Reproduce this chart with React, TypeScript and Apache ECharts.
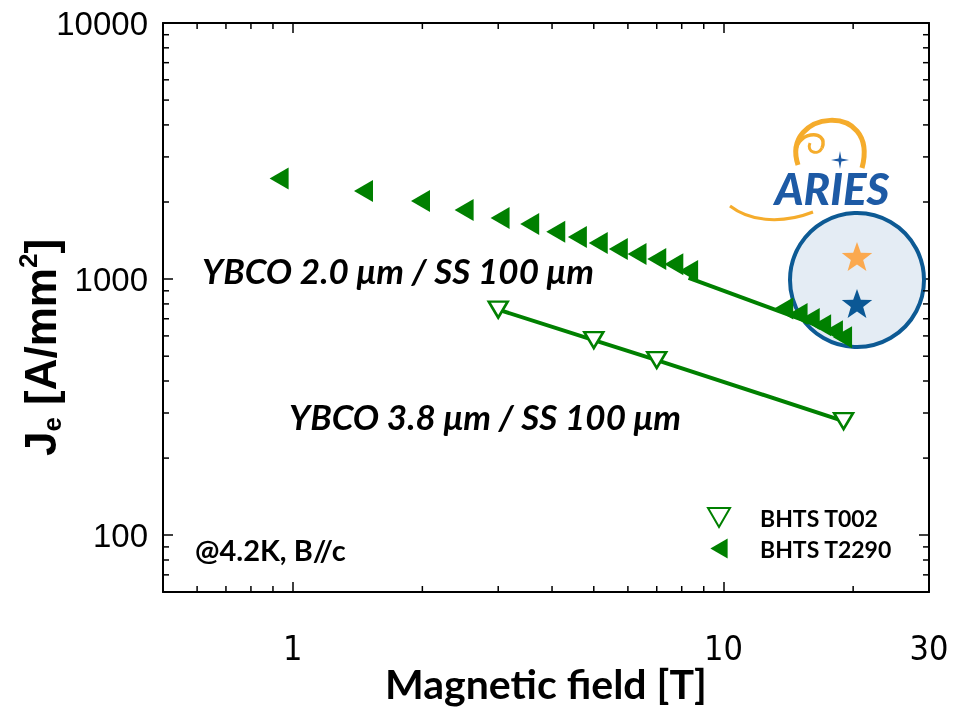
import React, { useEffect, useRef } from 'react';
import * as echarts from 'echarts';

// ---- data ----
const T002_FIELD = [3.0, 5.0, 7.0, 19.0];
const T002_JE = [760, 578, 483, 279];

const T2290_FIELD = [0.93, 1.46, 1.98, 2.5, 3.03, 3.55, 4.08, 4.58, 5.12, 5.7, 6.3, 7.0, 7.67, 8.3, 13.8, 14.9, 15.9, 16.9, 18.0, 18.9];
const T2290_JE = [2470, 2207, 2017, 1860, 1731, 1640, 1530, 1459, 1382, 1310, 1252, 1197, 1144, 1075, 767, 730, 698, 661, 626, 593];

const T2290_FIT_FIELD = [8.3, 19.4];
const T2290_FIT_JE = [1010, 598];

const X_MIN = 0.5;
const X_MAX = 30;
const Y_MIN = 60;
const Y_MAX = 10000;

const X_MINOR = [0.6, 0.7, 0.8, 0.9, 2, 3, 4, 5, 6, 7, 8, 9, 20];
const Y_MINOR = [70, 80, 90, 200, 300, 400, 500, 600, 700, 800, 900, 2000, 3000, 4000, 5000, 6000, 7000, 8000, 9000];

const LEGEND_NAMES = ['BHTS T002', 'BHTS T2290'];

const GREEN = '#008000';
const HUMANIST = 'Lato, "Open Sans", sans-serif';
const ARIAL = '"Liberation Sans", Arial, sans-serif';
const ICON_DOWN = 'path://M0,0 L22,0 L11,19 Z';
const ICON_LEFT = 'path://M19,0 L19,22 L0,11 Z';

function starPoints(cx: number, cy: number, R: number, r: number, n: number) {
  const pts: number[][] = [];
  for (let i = 0; i < n * 2; i++) {
    const rad = i % 2 === 0 ? R : r;
    const a = -Math.PI / 2 + (i * Math.PI) / n;
    pts.push([cx + rad * Math.cos(a), cy + rad * Math.sin(a)]);
  }
  return pts;
}

const fmt = (v: number) => String(Math.round(v * 100) / 100);

export default function App() {
  const ref = useRef<HTMLDivElement>(null);
  useEffect(() => {
    if (!ref.current) return;
    const chart = echarts.init(ref.current, undefined, { renderer: 'svg' });

    const axisCommon = {
      type: 'log',
      logBase: 10,
      nameMoveOverlap: false,
      axisLine: { show: true, lineStyle: { color: '#000', width: 2 } },
      axisTick: { show: true, inside: true, length: 10, lineStyle: { color: '#000', width: 1.5 } },
      splitLine: { show: false },
      minorTick: { show: false },
    };

    const tick = (x1: number, y1: number, x2: number, y2: number) => ({
      type: 'line',
      shape: { x1, y1, x2, y2 },
      style: { stroke: '#000', lineWidth: 1.5 },
    });

    const option: any = {
      animation: false,
      grid: { left: 163, top: 23, right: 26, bottom: 118, containLabel: false, outerBoundsMode: 'none' },
      xAxis: [
        {
          ...axisCommon,
          min: X_MIN,
          max: X_MAX,
          position: 'bottom',
          axisLabel: {
            showMinLabel: false,
            formatter: fmt,
            color: '#000',
            fontSize: 34,
            fontFamily: '"Liberation Sans Narrow", "DejaVu Sans Condensed", "Liberation Sans", sans-serif',
            margin: 39,
          },
          name: 'Magnetic field [T]',
          nameLocation: 'middle',
          nameGap: 71,
          nameTextStyle: { fontFamily: HUMANIST, fontWeight: 'bold', fontSize: 41, color: '#000' },
        },
        {
          ...axisCommon,
          min: X_MIN,
          max: X_MAX,
          position: 'top',
          axisLabel: { show: false },
        },
      ],
      yAxis: [
        {
          ...axisCommon,
          min: Y_MIN,
          max: Y_MAX,
          position: 'left',
          axisLabel: {
            showMinLabel: false,
            formatter: fmt,
            color: '#000',
            fontSize: 33,
            fontFamily: ARIAL,
            margin: 15,
          },
          name: '{j|J}{e|e}{t| [A/mm}{s|2}{t|]}',
          nameLocation: 'middle',
          nameGap: 98,
          nameTextStyle: {
            color: '#000',
            padding: [0, 80, 0, 0],
            rich: {
              j: { fontSize: 44, fontWeight: 'bold', fontFamily: ARIAL, lineHeight: 50, color: '#000' },
              t: { fontSize: 44, fontWeight: 'bold', fontFamily: ARIAL, lineHeight: 50, color: '#000' },
              e: { fontSize: 26, fontWeight: 'bold', fontFamily: ARIAL, lineHeight: 20, verticalAlign: 'bottom', color: '#000' },
              s: { fontSize: 26, fontWeight: 'bold', fontFamily: ARIAL, lineHeight: 20, verticalAlign: 'top', color: '#000' },
            },
          },
        },
        {
          ...axisCommon,
          min: Y_MIN,
          max: Y_MAX,
          position: 'right',
          axisLabel: { show: false },
        },
      ],
      legend: {
        orient: 'vertical',
        left: 702,
        top: 501,
        itemWidth: 22,
        itemHeight: 20,
        itemGap: 8,
        data: [
          { name: LEGEND_NAMES[0], icon: ICON_DOWN },
          { name: LEGEND_NAMES[1], icon: ICON_LEFT },
        ],
        textStyle: { fontFamily: HUMANIST, fontWeight: 'bold', fontSize: 23, color: '#000', padding: [0, 0, 0, 25] },
      },
      series: [
        {
          type: 'line',
          name: 'fitT002',
          data: T002_FIELD.map((x, i) => [x, T002_JE[i]]),
          showSymbol: false,
          symbol: 'none',
          lineStyle: { color: GREEN, width: 4 },
          z: 2,
          silent: true,
        },
        {
          type: 'line',
          name: 'fitT2290',
          data: T2290_FIT_FIELD.map((x, i) => [x, T2290_FIT_JE[i]]),
          showSymbol: false,
          symbol: 'none',
          lineStyle: { color: GREEN, width: 4 },
          z: 2,
          silent: true,
        },
        {
          type: 'scatter',
          name: LEGEND_NAMES[0],
          data: T002_FIELD.map((x, i) => [x, T002_JE[i]]),
          symbol: 'triangle',
          symbolRotate: 180,
          symbolSize: [19, 16],
          itemStyle: { color: '#fff', borderColor: GREEN, borderWidth: 2.5, opacity: 1 },
          z: 4,
        },
        {
          type: 'scatter',
          name: LEGEND_NAMES[1],
          data: T2290_FIELD.map((x, i) => [x, T2290_JE[i]]),
          symbol: 'triangle',
          symbolRotate: 90,
          symbolSize: [22, 19],
          itemStyle: { color: GREEN, opacity: 1 },
          z: 4,
        },
        {
          type: 'custom',
          name: 'xminor',
          silent: true,
          z: 5,
          data: X_MINOR.map((v) => [v, Y_MIN]),
          renderItem: (_p: any, api: any) => {
            const v = api.value(0);
            const b = api.coord([v, Y_MIN]);
            const t = api.coord([v, Y_MAX]);
            return {
              type: 'group',
              children: [tick(b[0], b[1], b[0], b[1] - 6), tick(t[0], t[1], t[0], t[1] + 6)],
            };
          },
        },
        {
          type: 'custom',
          name: 'yminor',
          silent: true,
          z: 5,
          data: Y_MINOR.map((v) => [X_MIN, v]),
          renderItem: (_p: any, api: any) => {
            const v = api.value(1);
            const l = api.coord([X_MIN, v]);
            const r = api.coord([X_MAX, v]);
            return {
              type: 'group',
              children: [tick(l[0], l[1], l[0] + 6, l[1]), tick(r[0], r[1], r[0] - 6, r[1])],
            };
          },
        },
      ],
      graphic: [
        {
          type: 'circle',
          z: 1,
          shape: { cx: 857, cy: 280, r: 67 },
          style: { fill: '#e4ecf4', stroke: '#0d5a94', lineWidth: 4 },
        },
        {
          type: 'polygon',
          z: 1,
          shape: { points: starPoints(857, 258, 16, 6.5, 5) },
          style: { fill: '#fba94f' },
        },
        {
          type: 'polygon',
          z: 1,
          shape: { points: starPoints(857, 305, 16, 6.5, 5) },
          style: { fill: '#0b5895' },
        },
        // ARIES logo
        {
          type: 'bezierCurve',
          z: 1,
          shape: { x1: 730, y1: 206, cpx1: 752, cpy1: 223, cpx2: 785, cpy2: 223, x2: 813, y2: 212 },
          style: { stroke: '#f5ac2c', lineWidth: 3, fill: 'none' },
        },
        {
          type: 'bezierCurve',
          z: 1,
          shape: { x1: 798, y1: 165, cpx1: 780, cpy1: 110, cpx2: 880, cpy2: 100, x2: 862, y2: 168 },
          style: { stroke: '#f5ac2c', lineWidth: 5, fill: 'none' },
        },
        {
          type: 'bezierCurve',
          z: 1,
          shape: { x1: 796, y1: 158, cpx1: 792, cpy1: 130, cpx2: 830, cpy2: 128, x2: 822, y2: 148 },
          style: { stroke: '#f5ac2c', lineWidth: 3.5, fill: 'none' },
        },
        {
          type: 'bezierCurve',
          z: 1,
          shape: { x1: 822, y1: 148, cpx1: 818, cpy1: 156, cpx2: 806, cpy2: 152, x2: 810, y2: 143 },
          style: { stroke: '#f5ac2c', lineWidth: 3, fill: 'none' },
        },
        {
          type: 'polygon',
          z: 1,
          shape: { points: starPoints(840, 160, 9, 2, 4) },
          style: { fill: '#1d5aa5' },
        },
        {
          type: 'text',
          z: 1,
          x: 832,
          y: 188,
          style: {
            text: 'ARIES',
            fontFamily: HUMANIST,
            fontStyle: 'italic',
            fontWeight: 900,
            fontSize: 44,
            fill: '#1d5aa5',
            align: 'center',
            verticalAlign: 'middle',
          },
        },
        // annotations
        {
          type: 'text',
          z: 6,
          x: 398,
          y: 270,
          style: {
            text: 'YBCO 2.0 μm / SS 100 μm',
            fontFamily: HUMANIST,
            fontStyle: 'italic',
            fontWeight: 'bold',
            fontSize: 35,
            fill: '#000',
            align: 'center',
            verticalAlign: 'middle',
          },
        },
        {
          type: 'text',
          z: 6,
          x: 485,
          y: 416,
          style: {
            text: 'YBCO 3.8 μm / SS 100 μm',
            fontFamily: HUMANIST,
            fontStyle: 'italic',
            fontWeight: 'bold',
            fontSize: 35,
            fill: '#000',
            align: 'center',
            verticalAlign: 'middle',
          },
        },
        {
          type: 'text',
          z: 6,
          x: 195,
          y: 549,
          style: {
            text: '@4.2K, B//c',
            fontFamily: HUMANIST,
            fontWeight: 'bold',
            fontSize: 29,
            fill: '#000',
            align: 'left',
            verticalAlign: 'middle',
          },
        },
      ],
    };

    chart.setOption(option);
    return () => chart.dispose();
  }, []);

  return <div ref={ref} style={{ position: 'fixed', left: 0, top: 0, width: 955, height: 710 }} />;
}
